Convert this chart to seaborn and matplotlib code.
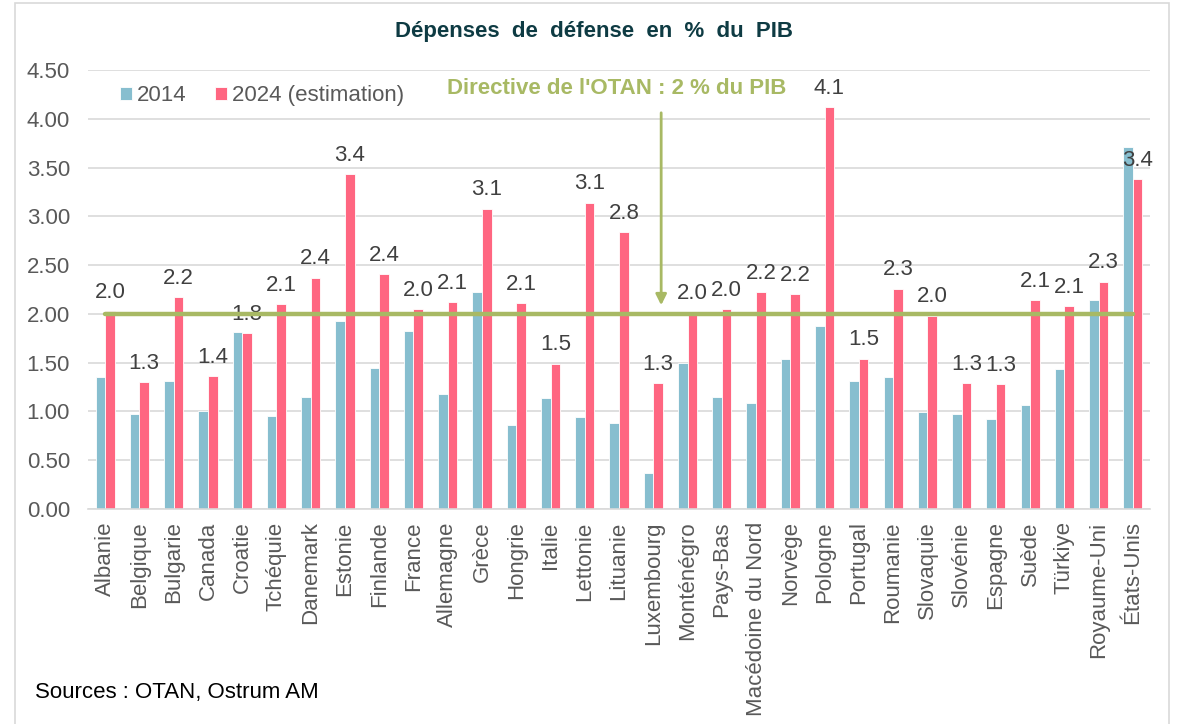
import numpy as np
import pandas as pd
import matplotlib
matplotlib.use("Agg")
import matplotlib.pyplot as plt
from matplotlib.patches import Rectangle
import seaborn as sns

countries = ["Albanie", "Belgique", "Bulgarie", "Canada", "Croatie", "Tchéquie", "Danemark",
             "Estonie", "Finlande", "France", "Allemagne", "Grèce", "Hongrie", "Italie",
             "Lettonie", "Lituanie", "Luxembourg", "Monténégro", "Pays-Bas",
             "Macédoine du Nord", "Norvège", "Pologne", "Portugal", "Roumanie",
             "Slovaquie", "Slovénie", "Espagne", "Suède", "Türkiye", "Royaume-Uni", "États-Unis"]
v2014 = [1.35, 0.97, 1.31, 1.00, 1.81, 0.95, 1.15, 1.93, 1.45, 1.82, 1.18, 2.22, 0.86, 1.14,
         0.94, 0.88, 0.37, 1.50, 1.15, 1.09, 1.54, 1.88, 1.31, 1.35, 0.99, 0.97, 0.92, 1.07,
         1.44, 2.14, 3.71]
v2024 = [2.03, 1.30, 2.17, 1.36, 1.80, 2.10, 2.37, 3.43, 2.41, 2.05, 2.12, 3.08, 2.11, 1.49,
         3.14, 2.84, 1.29, 2.02, 2.05, 2.22, 2.20, 4.12, 1.54, 2.26, 1.98, 1.29, 1.28, 2.14,
         2.08, 2.33, 3.38]
series = ["2014", "2024 (estimation)"]
otan_target = 2.0
y_ticks = [0.0, 0.5, 1.0, 1.5, 2.0, 2.5, 3.0, 3.5, 4.0, 4.5]

title = "Dépenses  de  défense  en  %  du  PIB"
annot = "Directive de l'OTAN : 2 % du PIB"
source = "Sources : OTAN, Ostrum AM"

BLUE = "#87BECF"
RED = "#FF6681"
GREEN = "#A8B964"
GRID = "#D9D9D9"
TXT = "#595959"
FS = 16

sns.set_theme(style="white")
plt.rcParams["font.family"] = ["Liberation Sans", "DejaVu Sans"]

df = pd.DataFrame({
    "pays": countries * 2,
    "valeur": v2014 + v2024,
    "serie": [series[0]] * len(countries) + [series[1]] * len(countries),
})

fig = plt.figure(figsize=(11.8, 7.24), dpi=100)
ax = fig.add_axes([0.0746, 0.2970, 0.9, 0.6063])

sns.barplot(data=df, x="pays", y="valeur", hue="serie", order=countries, hue_order=series,
            palette=[BLUE, RED], saturation=1, width=0.56, edgecolor="white", linewidth=0.6,
            errorbar=None, ax=ax, legend=True, zorder=2)

ax.set_ylim(0, 4.5)
ax.set_xlim(-0.5, len(countries) - 0.5)
ax.set_yticks(y_ticks)
ax.set_yticklabels([f"{t:.2f}" for t in y_ticks])
ax.yaxis.grid(True, color=GRID, linewidth=1.2, zorder=0)
ax.set_axisbelow(True)
for s in ["top", "right", "left"]:
    ax.spines[s].set_visible(False)
ax.spines["bottom"].set_color(GRID)
ax.spines["bottom"].set_linewidth(1.2)
ax.tick_params(axis="y", length=0, pad=13, labelsize=FS, labelcolor=TXT)
ax.tick_params(axis="x", length=0, pad=9, labelsize=FS, labelcolor=TXT)
plt.setp(ax.get_xticklabels(), rotation=90)
ax.set_xlabel("")
ax.set_ylabel("")

# labels on 2024 bars
red_container = ax.containers[1]
ax.bar_label(red_container, labels=[f"{v:.1f}" for v in v2024], padding=6,
             fontsize=FS, color="#404040")

# OTAN target line
x_idx = np.arange(len(countries))
ax.plot([x_idx[0], x_idx[-1]], [otan_target, otan_target], color=GREEN, linewidth=3.2, zorder=4)

# annotation and arrow
ax.text(14.94, 4.31, annot, ha="center", va="center", fontsize=FS, fontweight="bold", color=GREEN)
ax.annotate("", xy=(16.23, otan_target + 0.06), xytext=(16.23, 4.09),
            arrowprops=dict(arrowstyle="-|>", color=GREEN, lw=2, mutation_scale=16), zorder=5)

leg = ax.legend(loc="upper left", bbox_to_anchor=(0.0215, 0.985), ncol=2, frameon=False,
                fontsize=FS, handlelength=0.55, handleheight=0.55, handletextpad=0.2,
                columnspacing=1.3, borderaxespad=0)
for t in leg.get_texts():
    t.set_color(TXT)

fig.text(0.503, 0.956, title, ha="center", va="center", fontsize=FS, fontweight="bold",
         color="#0E3B43")
fig.text(0.030, 0.043, source, ha="left", va="center", fontsize=FS, color="black")

fig.patches.append(Rectangle((15 / 1180, -0.01), (1169 - 15) / 1180, 1.01 - 3 / 724,
                             transform=fig.transFigure, fill=False, edgecolor=GRID,
                             linewidth=1.2, figure=fig))

fig.savefig("out.png", dpi=100)
